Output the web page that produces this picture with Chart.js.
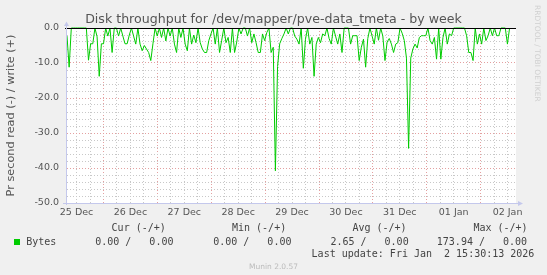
<!DOCTYPE html>
<html><head><meta charset="utf-8">
<script src="https://cdn.jsdelivr.net/npm/chart.js@4/dist/chart.umd.min.js"></script>
<style>
html,body{margin:0;padding:0;background:#f0f0f0;}
#wrap{position:relative;width:547px;height:275px;overflow:hidden;background:#f0f0f0;}
canvas{position:absolute;left:0;top:0;}
.m{position:absolute;white-space:pre;font-family:"DejaVu Sans Mono",monospace;font-size:10px;line-height:10px;color:#444;}
</style></head><body>
<div id="wrap">
<canvas id="c" width="547" height="275"></canvas>
<div id="title" style="position:absolute;left:0;top:12.6px;width:547px;text-align:center;font-family:'DejaVu Sans';font-size:12.6px;line-height:12.6px;color:#555;white-space:pre;">Disk throughput for /dev/mapper/pve-data_tmeta - by week</div>
<div style="position:absolute;left:533px;top:5px;writing-mode:vertical-rl;font-family:'DejaVu Sans';font-size:7.5px;line-height:9px;color:#d0d0d0;white-space:pre;">RRDTOOL / TOBI OETIKER</div>
<div class="m" style="left:111.6px;top:223.2px;">Cur (-/+)</div>
<div class="m" style="left:232px;top:223.2px;">Min (-/+)</div>
<div class="m" style="left:352.4px;top:223.2px;">Avg (-/+)</div>
<div class="m" style="left:473.4px;top:223.2px;">Max (-/+)</div>
<div style="position:absolute;left:14px;top:239px;width:6px;height:6px;background:#00cc00;"></div>
<div class="m" style="left:26.2px;top:236.5px;">Bytes</div>
<div class="m" style="left:95.2px;top:236.5px;">0.00 /   0.00</div>
<div class="m" style="left:213.2px;top:236.5px;">0.00 /   0.00</div>
<div class="m" style="left:330.4px;top:236.5px;">2.65 /   0.00</div>
<div class="m" style="left:436.8px;top:236.5px;">173.94 /   0.00</div>
<div class="m" style="left:311.6px;top:248.7px;">Last update: Fri Jan  2 15:30:13 2026</div>
<div style="position:absolute;left:0;top:263px;width:547px;text-align:center;font-family:'DejaVu Sans';font-size:7.5px;line-height:7.5px;color:#bbb;">Munin 2.0.57</div>
</div>
<script>
// ---- data ----
const dayLabels = ['25 Dec','26 Dec','27 Dec','28 Dec','29 Dec','30 Dec','31 Dec','01 Jan','02 Jan'];
const yTickLabelsEvery = 10;          // labelled y ticks
const startHour = 7.75;               // hours after 25 Dec 00:00 of first sample
const stepHours = 0.957;              // sample spacing (hours)
const bytesRead = [
 -2.3,-11.2,0,0,0,0,0,0,0,0,
 -9.2,-4.5,-4.5,0,-2.5,-13.8,-4.5,-4.5,0,-2.3,
 0,-7,0,0,-2.3,0,-2.3,-4.5,-4.5,-2,
 0,-2.3,-4.6,0,-4.6,-6.5,-5,-6,-7,-9.3,
 -4.5,0,-2.3,0,-2.7,0,-3.7,0,-2.3,0,
 -4.6,-7,0,-2.7,0,-4.6,-6.5,0,-4.6,-2,
 -4.2,0,-4.2,-6,-7,-7,-3.6,-1.7,0,-4.6,
 0,-7,-3.5,0,-4.2,-2.7,-7,0,-7,-4,
 0,-1.7,0,0,-2.3,0,-4.2,-1.7,-4.2,-7,
 -7,-1.7,-3.6,-1.3,0,-7,-5.5,-40.8,-11,-4.5,
 -3,-1.7,0,-1.7,0,0,-2.3,-3.2,-4.6,0,
 -11.5,-3.2,0,-4.6,-2.7,-13.8,-4.6,-2.7,-4.2,-1.7,
 -2.2,0,-3,-4.6,0,-2.3,-4.6,-1.7,-7,0,
 0,0,-4.6,-2.2,-2.2,-2.2,-9.3,-5.5,-3.2,-11.2,
 -3,0,-2.3,-4.6,0,-3.5,0,-2.3,-9.3,-4,
 -3,-4.6,-7,-4.6,-4.2,0,-1.5,-3.6,-8.6,-34.4,
 -8.6,-6,-4.6,-5.7,-2.7,-2.2,-2.2,-2.2,0,-3.6,
 -4.6,-2.7,-8.9,0,-8.9,-2.7,0,-4.6,-1.7,-2.2,
 0,0,0,0,0,0,-2.2,-7,-7,-9.3,
 0,-4.6,-1.7,-4.6,0,-3.6,-2.2,0,-2.2,0,
 -2.2,-2.2,0,0,0,-4.6,0
];
const X_MIN = 7.75, X_MAX = 207.75;   // visible time window (hours)
const Y_MIN = -50, Y_MAX = 0;

const points = bytesRead.map((v,i)=>({x:startHour+i*stepHours, y:v}));

const TXT = '#555';
const GRID_MINOR = '#c8c8c8';
const GRID_MAJOR = '#e4a0a0';
const AXIS = '#c4c8ec';

const decor = {
  id:'decor',
  beforeDraw(chart){
    const {ctx, chartArea:a} = chart;
    ctx.save(); ctx.fillStyle='#fff';
    ctx.fillRect(a.left,a.top,a.right-a.left,a.bottom-a.top);
    ctx.restore();
  },
  afterDatasetsDraw(chart){
    const {ctx, chartArea:a, scales} = chart;
    const y0 = Math.round(scales.y.getPixelForValue(0))+0.5;
    ctx.save();
    ctx.lineWidth=1;
    ctx.strokeStyle='#000';
    ctx.beginPath(); ctx.moveTo(a.left-2,y0); ctx.lineTo(a.right,y0); ctx.stroke();
    ctx.strokeStyle=AXIS; ctx.fillStyle=AXIS;
    const xl = a.left-0.5, yb = a.bottom+0.5;
    ctx.beginPath(); ctx.moveTo(xl,a.bottom+2); ctx.lineTo(xl,a.top-3); ctx.stroke();
    ctx.beginPath(); ctx.moveTo(xl-2.5,a.top-2); ctx.lineTo(xl+2.5,a.top-2); ctx.lineTo(xl,a.top-6.5); ctx.closePath(); ctx.fill();
    ctx.beginPath(); ctx.moveTo(a.left-4,yb); ctx.lineTo(a.right+3,yb); ctx.stroke();
    ctx.beginPath(); ctx.moveTo(a.right+2,yb-2.5); ctx.lineTo(a.right+2,yb+2.5); ctx.lineTo(a.right+7,yb); ctx.closePath(); ctx.fill();
    ctx.restore();
  }
};

new Chart(document.getElementById('c'), {
  type:'line',
  data:{datasets:[{
    label:'Bytes', data:points, borderColor:'#00cc00', backgroundColor:'#00cc00',
    borderWidth:1, pointRadius:0, tension:0, fill:false, clip:2
  }]},
  options:{
    responsive:false, animation:false, devicePixelRatio:1,
    layout:{padding:{top:28,right:31,left:0,bottom:0}},
    plugins:{legend:{display:false}, title:{display:false}, tooltip:{enabled:false}},
    scales:{
      x:{
        type:'linear', min:X_MIN, max:X_MAX,
        afterBuildTicks(s){ const t=[]; for(let h=12; h<=X_MAX; h+=6) t.push({value:h}); s.ticks=t; },
        afterFit(s){ s.height=72; },
        ticks:{autoSkip:false, maxRotation:0, padding:4, color:TXT,
          font:{family:'DejaVu Sans', size:9.5},
          callback(v){ return ((v-12)%24===0) ? dayLabels[(v-12)/24] : ''; }},
        grid:{drawTicks:false, lineWidth:1,
          color(c){ const v=c.tick&&c.tick.value; return (v%24===0)?GRID_MAJOR:GRID_MINOR; }},
        border:{display:false, dash:[1,2]}
      },
      y:{
        type:'linear', min:Y_MIN, max:Y_MAX,
        afterBuildTicks(s){ const t=[]; for(let v=Y_MIN; v<=Y_MAX; v+=2) t.push({value:v}); s.ticks=t; },
        afterFit(s){ s.width=67; },
        ticks:{autoSkip:false, padding:8, color:TXT,
          font:{family:'DejaVu Sans', size:9.5},
          callback(v){ return (v%yTickLabelsEvery===0) ? (v===0?'0.0':v.toFixed(1)) : ''; }},
        grid:{drawTicks:false, lineWidth:1,
          color(c){ const v=c.tick&&c.tick.value; if(v===0||v===Y_MIN) return 'rgba(0,0,0,0)'; return (v%10===0)?GRID_MAJOR:GRID_MINOR; }},
        border:{display:false, dash:[1,2]},
        title:{display:true, text:'Pr second read (-) / write (+)', color:TXT,
          font:{family:'DejaVu Sans', size:11.3}, padding:{top:4,bottom:0}}
      }
    }
  },
  plugins:[decor]
});
</script>
</body></html>
